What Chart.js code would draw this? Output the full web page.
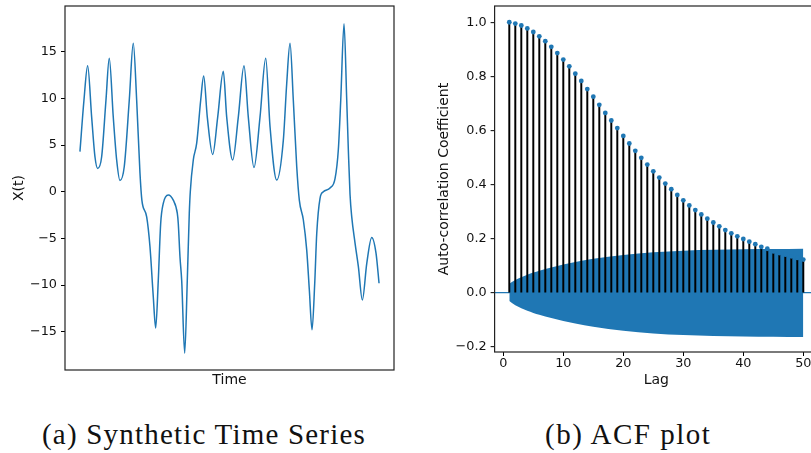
<!DOCTYPE html>
<html><head><meta charset="utf-8">
<script src="https://cdn.jsdelivr.net/npm/chart.js@4.4.0/dist/chart.umd.min.js"></script>
<style>
html,body{margin:0;padding:0;width:811px;height:453px;overflow:hidden;background:#fff;}
#c1{position:absolute;left:0;top:0;}
#c2{position:absolute;left:400px;top:0;}
.cap{position:absolute;top:420px;font-family:"Liberation Serif","Times New Roman",serif;font-size:29px;line-height:29px;color:#111;white-space:nowrap;}
</style></head><body>
<canvas id="c1" width="400" height="400"></canvas>
<canvas id="c2" width="424" height="400"></canvas>
<div class="cap" style="left:42px;letter-spacing:1.2px">(a) Synthetic Time Series</div>
<div class="cap" style="left:545px;letter-spacing:1.5px">(b) ACF plot</div>
<script>
// ---- Panel (a): synthetic time series ----
const timeSteps = [0, 4, 7.7, 11.7, 15, 17.7, 21.7, 26, 29.3, 33.3, 36.7, 40, 44.3, 49.3, 53.3, 56.7, 60, 61.9, 66.7, 70, 73.3, 75.7, 78.3, 80.7, 83.3, 88.3, 93.3, 97.3, 98.3, 100, 101.7, 104.7, 107.3, 109.3, 110.3, 113.3, 116.7, 120.7, 123.7, 127.3, 132.7, 137.7, 143.3, 146.7, 152.7, 158.3, 164, 168.3, 174, 180, 185.7, 190, 196.7, 203.3, 206.7, 210, 213.3, 216.7, 219.3, 223.3, 226.7, 229.3, 232, 234.7, 236.7, 240, 243.3, 250, 255, 258.3, 260.7, 264, 266.7, 268.3, 270, 271.7, 275, 278.3, 282.3, 286.7, 291.7, 296, 299];
const seriesX = [4.3, 9.8, 13.5, 8.0, 3.75, 2.5, 3.75, 9.8, 14.3, 8.0, 3.4, 1.2, 2.7, 9.8, 15.9, 9.8, 2.0, -0.9, -2.7, -5.9, -11.25, -14.6, -9.5, -3.4, -1.25, -0.35, -0.9, -2.3, -3.4, -7.0, -9.5, -17.3, -9.5, -2.3, 0.0, 3.4, 5.2, 9.8, 12.4, 8.0, 4.0, 8.0, 12.9, 8.0, 3.4, 8.0, 13.5, 8.0, 2.6, 8.0, 14.3, 7.0, 1.25, 5.5, 11.6, 15.9, 9.8, 2.7, -0.9, -3.0, -6.25, -10.5, -14.8, -9.8, -4.5, -0.7, 0.0, 0.4, 1.4, 4.5, 9.8, 18.0, 9.8, 4.5, -0.3, -2.7, -5.5, -8.0, -11.6, -7.7, -4.9, -6.6, -9.8];
const tsTicks = [-15, -10, -5, 0, 5, 10, 15];

// ---- Panel (b): ACF ----
const lags = [1,2,3,4,5,6,7,8,9,10,11,12,13,14,15,16,17,18,19,20,21,22,23,24,25,26,27,28,29,30,31,32,33,34,35,36,37,38,39,40,41,42,43,44,45,46,47,48,49,50];
const acfValues = [1.000, 0.995, 0.988, 0.977, 0.964, 0.948, 0.930, 0.909, 0.886, 0.862, 0.837, 0.810, 0.783, 0.753, 0.725, 0.695, 0.665, 0.637, 0.609, 0.580, 0.552, 0.525, 0.499, 0.474, 0.449, 0.426, 0.404, 0.383, 0.362, 0.342, 0.323, 0.306, 0.290, 0.274, 0.260, 0.246, 0.232, 0.220, 0.209, 0.199, 0.189, 0.180, 0.170, 0.163, 0.153, 0.147, 0.141, 0.135, 0.129, 0.123];
const bandLags = [1, 2, 3, 4, 5, 6, 8, 10, 12, 15, 20, 25, 30, 35, 40, 45, 50];
const bandUpper = [0.034, 0.048, 0.058, 0.067, 0.075, 0.082, 0.094, 0.105, 0.114, 0.126, 0.140, 0.150, 0.156, 0.159, 0.161, 0.162, 0.163];
const bandLower = [-0.030, -0.046, -0.057, -0.066, -0.074, -0.081, -0.093, -0.104, -0.113, -0.125, -0.140, -0.150, -0.156, -0.159, -0.161, -0.162, -0.163];
const acfYTicks = [-0.2, 0, 0.2, 0.4, 0.6, 0.8, 1.0];
const lagTicks = [0, 10, 20, 30, 40, 50];

const BLUE = '#1f77b4';
Chart.defaults.font.family = "'DejaVu Sans', sans-serif";
Chart.defaults.color = '#111';

const frame = {
  id: 'frame',
  afterDatasetsDraw(chart) {
    const {ctx, chartArea: a} = chart;
    ctx.save();
    ctx.strokeStyle = '#222';
    ctx.lineWidth = 1.2;
    ctx.strokeRect(a.left, a.top, a.right - a.left, a.bottom - a.top);
    ctx.restore();
  }
};
const minus = s => s.replace('-', '\u2212');

new Chart(document.getElementById('c1'), {
  type: 'line',
  data: {
    datasets: [{
      data: timeSteps.map((t, i) => ({x: t, y: seriesX[i]})),
      borderColor: BLUE, borderWidth: 1.5, pointRadius: 0,
      cubicInterpolationMode: 'monotone', fill: false
    }]
  },
  options: {
    responsive: false, animation: false, devicePixelRatio: 1,
    layout: {padding: {top: 6, right: 6, left: 0, bottom: 0}},
    plugins: {legend: {display: false}, tooltip: {enabled: false}},
    scales: {
      x: {
        type: 'linear', min: -14.95, max: 313.95,
        border: {display: false}, grid: {display: false}, ticks: {display: false},
        title: {display: true, text: 'Time', font: {size: 14}, color: '#111', padding: {top: 0, bottom: 11.6}},
        afterFit: s => { s.height = 30; s.paddingLeft = 0; s.paddingRight = 0; }
      },
      y: {
        type: 'linear', min: -19.1, max: 19.9,
        border: {display: false},
        grid: {drawOnChartArea: false, drawTicks: true, tickLength: 4, tickColor: '#000', tickWidth: 1},
        ticks: {font: {size: 12.8}, padding: 4, color: '#111', callback: v => minus(String(v))},
        afterBuildTicks: s => { s.ticks = tsTicks.map(v => ({value: v})); },
        title: {display: true, text: 'X(t)', font: {size: 14}, color: '#111', padding: {top: 10.6, bottom: 0}},
        afterFit: s => { s.width = 65; s.paddingTop = 0; s.paddingBottom = 0; }
      }
    }
  },
  plugins: [frame]
});

new Chart(document.getElementById('c2'), {
  type: 'line',
  data: {
    datasets: [
      {
        type: 'line', order: 3,
        data: bandLags.map((l, i) => ({x: l, y: bandUpper[i]})),
        borderWidth: 0, borderColor: BLUE, backgroundColor: BLUE, pointRadius: 0,
        cubicInterpolationMode: 'monotone', fill: '+1'
      },
      {
        type: 'line', order: 3,
        data: bandLags.map((l, i) => ({x: l, y: bandLower[i]})),
        borderWidth: 0, borderColor: BLUE, backgroundColor: BLUE, pointRadius: 0,
        cubicInterpolationMode: 'monotone', fill: false
      },
      {
        type: 'bar', order: 1,
        data: lags.map((l, i) => ({x: l, y: acfValues[i]})),
        backgroundColor: '#000', borderWidth: 0, barThickness: 1.3
      },
      {
        type: 'line', order: 0, showLine: false,
        data: lags.map((l, i) => ({x: l, y: acfValues[i]})),
        pointRadius: 2.4, pointBackgroundColor: BLUE, pointBorderWidth: 0, borderColor: BLUE
      }
    ]
  },
  options: {
    responsive: false, animation: false, devicePixelRatio: 1,
    layout: {padding: {top: 6, right: 6, left: 0, bottom: 0}},
    plugins: {legend: {display: false}, tooltip: {enabled: false}},
    scales: {
      x: {
        type: 'linear', min: -1.45, max: 52.45, offset: false,
        border: {display: false},
        grid: {offset: false, drawOnChartArea: false, drawTicks: true, tickLength: 4, tickColor: '#000', tickWidth: 1},
        ticks: {font: {size: 12.8}, padding: 0, color: '#111', maxRotation: 0, callback: v => String(v)},
        afterBuildTicks: s => { s.ticks = lagTicks.map(v => ({value: v})); },
        title: {display: true, text: 'Lag', font: {size: 14}, color: '#111', padding: {top: 0, bottom: 11.6}},
        afterFit: s => { s.height = 48; s.paddingLeft = 0; s.paddingRight = 0; }
      },
      y: {
        type: 'linear', min: -0.2185, max: 1.06,
        border: {display: false},
        grid: {
          offset: false, drawOnChartArea: true, drawTicks: true, tickLength: 4, tickColor: '#000', tickWidth: 1,
          lineWidth: 1.3,
          color: c => (c.tick && c.tick.value === 0) ? BLUE : 'rgba(0,0,0,0)'
        },
        ticks: {font: {size: 12.8}, padding: 4, color: '#111',
          callback: v => (v < -1e-9 ? '\u2212' : '') + Math.abs(v).toFixed(1)},
        afterBuildTicks: s => { s.ticks = acfYTicks.map(v => ({value: v})); },
        title: {display: true, text: 'Auto-correlation Coefficient', font: {size: 14}, color: '#111', padding: {top: 35.6, bottom: 0}},
        afterFit: s => { s.width = 94.6; s.paddingTop = 0; s.paddingBottom = 0; }
      }
    }
  },
  plugins: [frame]
});
</script>
</body></html>
